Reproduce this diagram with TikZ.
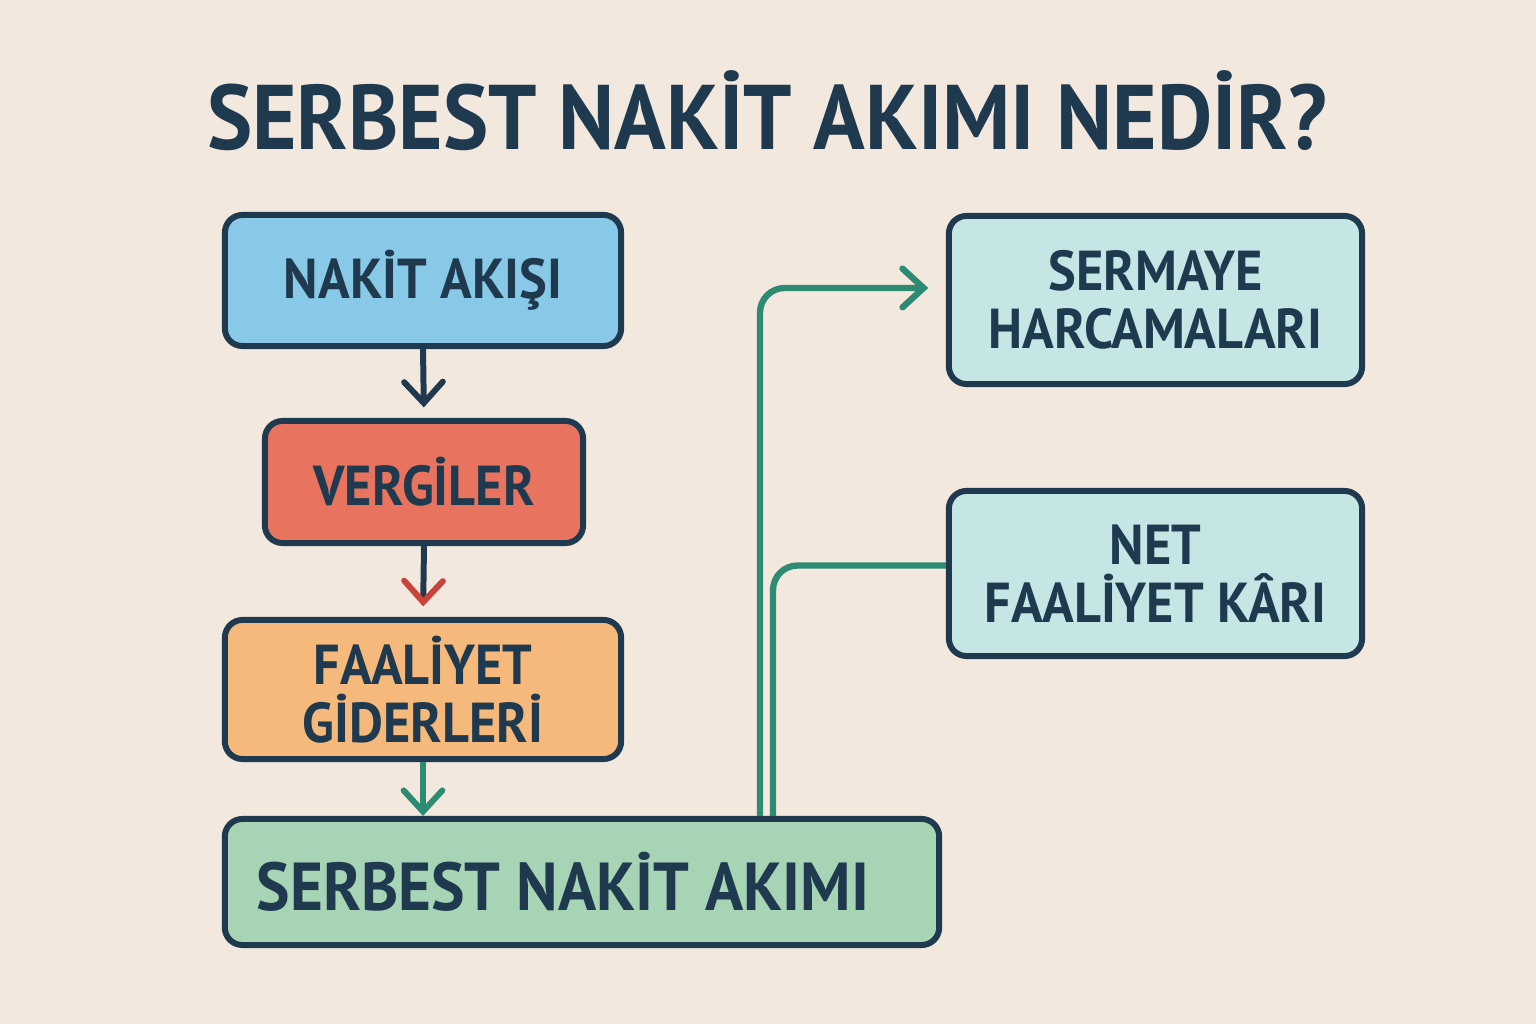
\documentclass[tikz,border=0pt]{standalone}
\usepackage{xcolor}
\usepackage{fontspec}
\setmainfont[FakeStretch=0.93]{PT Sans}
\usepackage{tikz}
\usetikzlibrary{arrows.meta}

\definecolor{paper}{HTML}{F3E8DE}
\definecolor{ink}{HTML}{1F3A4F}
\definecolor{cashblue}{HTML}{88C9E8}
\definecolor{taxred}{HTML}{E8735E}
\definecolor{opexorange}{HTML}{F5B97B}
\definecolor{fcfgreen}{HTML}{A6D4B4}
\definecolor{sidecyan}{HTML}{C6E5E5}
\definecolor{flowgreen}{HTML}{2E8B73}
\definecolor{headred}{HTML}{C8433A}

\begin{document}
\begin{tikzpicture}[x=0.01cm, y=0.01cm,
    box/.style={draw=ink, line width=1.7pt, rounded corners=5pt, align=center,
        text=ink, font=\bfseries\fontsize{16}{16.5}\selectfont, inner sep=0pt},
    down/.style={draw=ink, line width=1.7pt, -{Straight Barb[length=6pt, width=11pt, line cap=round]}},
    flow/.style={draw=flowgreen, line width=1.8pt, rounded corners=7pt}]
    % Background
    \fill[paper] (0,0) rectangle (1536,1024);
    \node[text=ink, font=\bfseries\fontsize{26.1}{26}\selectfont] (title) at (767,913) {SERBEST NAKİT AKIMI NEDİR?};

    % Left column
    \node[box, fill=cashblue, minimum width=3.96cm, minimum height=1.31cm] (cash) at (423,743.5) {NAKİT AKIŞI};
    \node[box, fill=taxred, minimum width=3.18cm, minimum height=1.22cm] (tax) at (424,542) {VERGİLER};
    \node[box, fill=opexorange, minimum width=3.96cm, minimum height=1.39cm] (opex) at (423,334.5) {FAALİYET\\GİDERLERİ};
    \node[box, fill=fcfgreen, minimum width=7.14cm, minimum height=1.26cm,
        font=\bfseries\fontsize{19.3}{19}\selectfont] (fcf) at (582,142) {SERBEST NAKİT AKIMI\hspace{0.38cm}};

    % Right column
    \node[box, fill=sidecyan, minimum width=4.13cm, minimum height=1.68cm] (capex) at (1155.5,724) {SERMAYE\\HARCAMALARI};
    \node[box, fill=sidecyan, minimum width=4.13cm, minimum height=1.65cm] (nopat) at (1155.5,450.5) {NET\\FAALİYET KÂRI};

    % Arrows
    \draw[down, shorten >=3pt] (cash.south) -- (tax.north);
    \draw[down, -{Straight Barb[length=6pt, width=11pt, line cap=round, color=headred]}, shorten >=3pt] (tax.south) -- (opex.north);
    \draw[down, draw=flowgreen, shorten >=0pt] (opex.south) -- (fcf.north -| opex.south);

    % Links to the right
    \coordinate (up1) at (760,0);
    \coordinate (up2) at (773,0);
    \draw[flow, -{Straight Barb[length=6pt, width=11pt, line cap=round]}, shorten >=5pt]
        (fcf.north -| up1) |- ([yshift=0.12cm]capex.west);
    \draw[flow] ([yshift=0.08cm]nopat.west) -| (fcf.north -| up2);
\end{tikzpicture}
\end{document}
